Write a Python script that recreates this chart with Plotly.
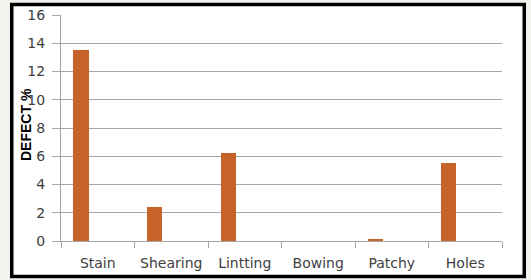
import plotly.graph_objects as go

categories = ["Stain", "Shearing", "Lintting", "Bowing", "Patchy", "Holes"]
defect_pct = [13.5, 2.4, 6.2, 0.0, 0.1, 5.5]
y_ticks = [0, 2, 4, 6, 8, 10, 12, 14, 16]

W, H = 531, 280
L, R, T, B = 61, 29, 15, 39
pw, ph = W - L - R, H - T - B

def px_x(px):
    return (px - L) / pw

def px_y(py):
    return (H - B - py) / ph

fig = go.Figure()
fig.add_trace(go.Bar(
    x=categories, y=defect_pct,
    width=0.21, offset=-0.33,
    marker=dict(color="#C6622A", line=dict(width=0)),
    showlegend=False,
))

grid = "#A6A6A6"
tickfont = dict(family="DejaVu Sans", size=14, color="#404040")

fig.update_layout(
    width=W, height=H,
    margin=dict(l=L, r=R, t=T, b=B),
    paper_bgcolor="#F3F3EE",
    plot_bgcolor="white",
    bargap=0,
    xaxis=dict(
        type="category", range=[-0.5, 5.5], automargin=False,
        tickson="boundaries", ticks="outside", ticklen=6, tickcolor=grid, tickwidth=1,
        ticklabelstandoff=9,
        showline=True, linecolor=grid, linewidth=1,
        showgrid=False, tickfont=tickfont, fixedrange=True,
    ),
    yaxis=dict(
        range=[0, 16], tickvals=y_ticks, automargin=False,
        ticks="outside", ticklen=8, tickcolor=grid, tickwidth=1,
        ticklabelstandoff=4,
        showline=True, linecolor=grid, linewidth=1,
        showgrid=True, gridcolor=grid, gridwidth=1,
        zeroline=False, tickfont=tickfont,
    ),
    shapes=[dict(
        type="rect", xref="paper", yref="paper", layer="below",
        x0=px_x(11.75), x1=px_x(524.25), y0=px_y(276.5), y1=px_y(4.5),
        line=dict(color="black", width=3.5), fillcolor="white",
    )],
    annotations=[dict(
        text="<b>DEFECT %</b>", xref="paper", yref="paper",
        x=px_x(26), y=px_y(125), textangle=-90, showarrow=False,
        xanchor="center", yanchor="middle",
        font=dict(family="Liberation Sans", size=14, color="black"),
    )],
)

fig.write_html("out.html")
